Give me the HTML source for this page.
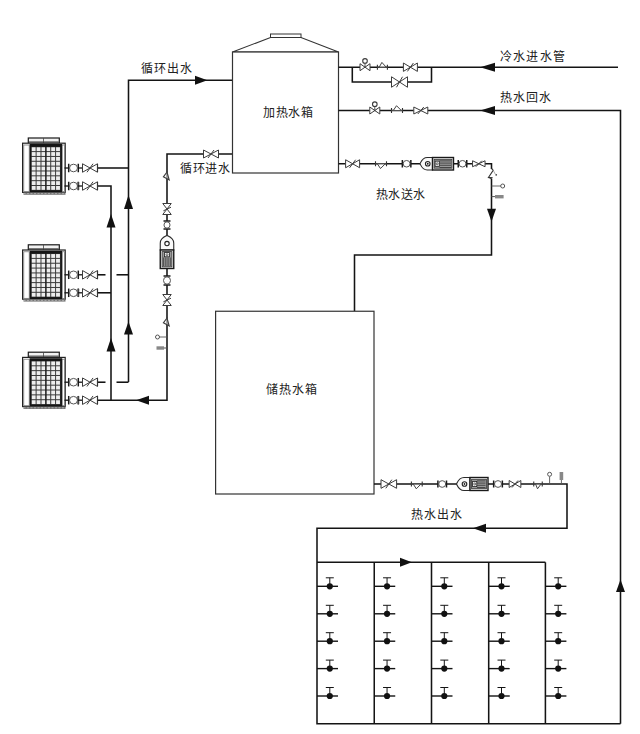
<!DOCTYPE html><html lang="zh-CN"><head><meta charset="utf-8"><style>html,body{margin:0;padding:0;background:#fff;width:640px;height:734px;overflow:hidden;}svg{display:block}text{font-family:"Liberation Serif",serif;fill:#222}</style></head><body>
<svg width="640" height="734" viewBox="0 0 640 734">
<rect width="640" height="734" fill="#fff"/>
<polyline points="128.5,382 128.5,80.3 232.5,80.3" fill="none" stroke="#141414" stroke-width="1.55" stroke-linejoin="miter"/>
<polygon points="207.4,80.3 195.0,75.8 195.0,84.8" fill="#111"/>
<line x1="97.5" y1="168" x2="128.5" y2="168" stroke="#141414" stroke-width="1.55"/>
<line x1="97.5" y1="274.8" x2="105.5" y2="274.8" stroke="#141414" stroke-width="1.55"/>
<line x1="116.5" y1="274.8" x2="128.5" y2="274.8" stroke="#141414" stroke-width="1.55"/>
<line x1="97.5" y1="382.2" x2="105.5" y2="382.2" stroke="#141414" stroke-width="1.55"/>
<line x1="116.5" y1="382.2" x2="128.5" y2="382.2" stroke="#141414" stroke-width="1.55"/>
<polyline points="97.5,186 111,186 111,400.2" fill="none" stroke="#141414" stroke-width="1.55" stroke-linejoin="miter"/>
<line x1="97.5" y1="292.8" x2="111" y2="292.8" stroke="#141414" stroke-width="1.55"/>
<polyline points="97.5,400.2 167,400.2 167,154 232.5,154" fill="none" stroke="#141414" stroke-width="1.55" stroke-linejoin="miter"/>
<polygon points="128.5,195.1 124.0,209.0 133.0,209.0" fill="#111"/>
<polygon points="128.5,321.6 124.0,334.5 133.0,334.5" fill="#111"/>
<polygon points="111,214.1 106.5,227.5 115.5,227.5" fill="#111"/>
<polygon points="111,338.1 106.5,351.5 115.5,351.5" fill="#111"/>
<polygon points="136.1,400.2 149.0,395.7 149.0,404.7" fill="#111"/>
<rect x="203.5" y="153" width="15" height="2" fill="#fff"/>
<polygon points="203.5,150.0 218.5,158.0 218.5,150.0 203.5,158.0" fill="#fff" stroke="#3c3c3c" stroke-width="1.0"/>
<line x1="208" y1="158.0" x2="214" y2="150.0" stroke="#3c3c3c" stroke-width="1.0"/>
<polygon points="167,172.0 163.4,176.8 169.2,180.0" fill="#fff" stroke="#3a3a3a" stroke-width="1.1"/>
<line x1="167" y1="172.0" x2="167" y2="180.0" stroke="#444" stroke-width="0.9"/>
<rect x="166" y="203.5" width="2" height="11" fill="#fff"/>
<polygon points="162.75,203.5 171.25,214.5 162.75,214.5 171.25,203.5" fill="#fff" stroke="#3c3c3c" stroke-width="1.0"/>
<line x1="163.4" y1="210.8" x2="171" y2="207.2" stroke="#3c3c3c" stroke-width="1.0"/>
<line x1="163.5" y1="221.0" x2="170.5" y2="221.0" stroke="#1a1a1a" stroke-width="1.5"/>
<line x1="163.5" y1="229.0" x2="170.5" y2="229.0" stroke="#1a1a1a" stroke-width="1.5"/>
<ellipse cx="167" cy="225" rx="3.04" ry="3.2" fill="#fff" stroke="#555" stroke-width="1"/>
<path d="M160.25,250.0 L160.25,243.25 C160.25,238.0 165,236.5 167,235.5 C169,236.5 173.75,238.0 173.75,243.25 L173.75,250.0 Z" fill="#fafafa" stroke="#2a2a2a" stroke-width="1.1"/>
<circle cx="167" cy="243.55" r="2.2" fill="#fff" stroke="#222" stroke-width="1.1"/>
<rect x="160.25" y="250.0" width="13.5" height="18.5" fill="#fff" stroke="#1a1a1a" stroke-width="1.4"/>
<rect x="162.05" y="251.6" width="9.9" height="15.3" fill="#999" stroke="#333" stroke-width="0.8"/>
<line x1="163.65" y1="257.5" x2="163.65" y2="266.0" stroke="#333" stroke-width="0.8"/>
<line x1="165.85" y1="257.5" x2="165.85" y2="266.0" stroke="#333" stroke-width="0.8"/>
<line x1="168.05" y1="257.5" x2="168.05" y2="266.0" stroke="#333" stroke-width="0.8"/>
<line x1="170.25" y1="257.5" x2="170.25" y2="266.0" stroke="#333" stroke-width="0.8"/>
<rect x="164.4" y="252.6" width="5.2" height="4.2" fill="#eee" stroke="#222" stroke-width="0.8"/>
<circle cx="167" cy="254.7" r="1" fill="none" stroke="#222" stroke-width="0.6"/>
<line x1="163.5" y1="276.0" x2="170.5" y2="276.0" stroke="#1a1a1a" stroke-width="1.5"/>
<line x1="163.5" y1="285.0" x2="170.5" y2="285.0" stroke="#1a1a1a" stroke-width="1.5"/>
<ellipse cx="167" cy="280.5" rx="3.515" ry="3.7" fill="#fff" stroke="#555" stroke-width="1"/>
<rect x="166" y="294.5" width="2" height="11" fill="#fff"/>
<polygon points="162.75,294.5 171.25,305.5 162.75,305.5 171.25,294.5" fill="#fff" stroke="#3c3c3c" stroke-width="1.0"/>
<line x1="163.4" y1="301.8" x2="171" y2="298.2" stroke="#3c3c3c" stroke-width="1.0"/>
<polygon points="167,318.0 163.4,322.8 169.2,326.0" fill="#fff" stroke="#3a3a3a" stroke-width="1.1"/>
<line x1="167" y1="318.0" x2="167" y2="326.0" stroke="#444" stroke-width="0.9"/>
<line x1="159" y1="337" x2="167" y2="337" stroke="#555" stroke-width="0.9"/>
<circle cx="157.5" cy="337" r="2" fill="#fff" stroke="#555" stroke-width="1"/>
<line x1="164" y1="348" x2="167" y2="348" stroke="#555" stroke-width="1"/>
<rect x="156.5" y="346.3" width="7.5" height="3.4" fill="#888"/>
<polygon points="232.5,52 270.5,37.5 301,37.5 338.5,52" fill="#fff" stroke="#333" stroke-width="1.1"/>
<rect x="270.5" y="34" width="30.5" height="3.5" fill="#fff" stroke="#333" stroke-width="1"/>
<rect x="232.5" y="52" width="106" height="121" fill="#fff" stroke="#333" stroke-width="1.2"/>
<line x1="338.5" y1="67.2" x2="618" y2="67.2" stroke="#141414" stroke-width="1.55"/>
<polyline points="352.3,67.2 352.3,82 431.5,82 431.5,67.2" fill="none" stroke="#141414" stroke-width="1.55" stroke-linejoin="miter"/>
<polygon points="480.1,67.2 495.0,62.7 495.0,71.7" fill="#111"/>
<rect x="360.0" y="66.2" width="10" height="2" fill="#fff"/>
<polygon points="360.0,63.7 370.0,70.7 370.0,63.7 360.0,70.7" fill="#fff" stroke="#3c3c3c" stroke-width="1.0"/>
<line x1="365" y1="67.2" x2="365" y2="62.2" stroke="#3c3c3c" stroke-width="0.9"/>
<circle cx="365" cy="60.900000000000006" r="2.3" fill="#fff" stroke="#3c3c3c" stroke-width="1.1"/>
<line x1="377.4" y1="64.7" x2="377.4" y2="69.7" stroke="#333" stroke-width="1.1"/>
<line x1="387.4" y1="64.7" x2="387.4" y2="69.7" stroke="#333" stroke-width="1.1"/>
<polygon points="379.2,67.2 381.9,62.400000000000006 386.2,67.2" fill="#fff" stroke="#444" stroke-width="1"/>
<line x1="377.4" y1="67.2" x2="387.4" y2="67.2" stroke="#555" stroke-width="0.8"/>
<rect x="403.4" y="66.2" width="14" height="2" fill="#fff"/>
<polygon points="403.4,63.0 417.4,71.4 417.4,63.0 403.4,71.4" fill="#fff" stroke="#3c3c3c" stroke-width="1.0"/>
<line x1="407.4" y1="71.4" x2="413.4" y2="63.0" stroke="#3c3c3c" stroke-width="1.0"/>
<rect x="391.5" y="81" width="16" height="2" fill="#fff"/>
<polygon points="391.5,76.75 407.5,87.25 407.5,76.75 391.5,87.25" fill="#fff" stroke="#3c3c3c" stroke-width="1.0"/>
<line x1="396.5" y1="87.25" x2="402.5" y2="76.75" stroke="#3c3c3c" stroke-width="1.0"/>
<polyline points="338.5,110.5 620.5,110.5 620.5,723.8" fill="none" stroke="#141414" stroke-width="1.55" stroke-linejoin="miter"/>
<polygon points="480.1,110.5 495.0,106.0 495.0,115.0" fill="#111"/>
<rect x="369.8" y="109.5" width="10" height="2" fill="#fff"/>
<polygon points="369.8,107.0 379.8,114.0 379.8,107.0 369.8,114.0" fill="#fff" stroke="#3c3c3c" stroke-width="1.0"/>
<line x1="374.8" y1="110.5" x2="374.8" y2="105.5" stroke="#3c3c3c" stroke-width="0.9"/>
<circle cx="374.8" cy="104.2" r="2.3" fill="#fff" stroke="#3c3c3c" stroke-width="1.1"/>
<line x1="391.5" y1="108.0" x2="391.5" y2="113.0" stroke="#333" stroke-width="1.1"/>
<line x1="402.5" y1="108.0" x2="402.5" y2="113.0" stroke="#333" stroke-width="1.1"/>
<polygon points="393.3,110.5 396.5,105.7 401.3,110.5" fill="#fff" stroke="#444" stroke-width="1"/>
<line x1="391.5" y1="110.5" x2="402.5" y2="110.5" stroke="#555" stroke-width="0.8"/>
<rect x="413.8" y="109.5" width="14" height="2" fill="#fff"/>
<polygon points="413.8,107.0 427.8,114.0 427.8,107.0 413.8,114.0" fill="#fff" stroke="#3c3c3c" stroke-width="1.0"/>
<line x1="417.8" y1="114.0" x2="423.8" y2="107.0" stroke="#3c3c3c" stroke-width="1.0"/>
<polygon points="620.5,579.6 616.0,592.0 625.0,592.0" fill="#111"/>
<polyline points="338.5,163.75 491.5,163.75 491.5,255 354.5,255 354.5,311.25" fill="none" stroke="#141414" stroke-width="1.55" stroke-linejoin="miter"/>
<rect x="345.6" y="162.75" width="14" height="2" fill="#fff"/>
<polygon points="345.6,159.75 359.6,167.75 359.6,159.75 345.6,167.75" fill="#fff" stroke="#3c3c3c" stroke-width="1.0"/>
<line x1="349.6" y1="167.75" x2="355.6" y2="159.75" stroke="#3c3c3c" stroke-width="1.0"/>
<line x1="375.5" y1="161.25" x2="375.5" y2="166.25" stroke="#333" stroke-width="1.1"/>
<line x1="386.5" y1="161.25" x2="386.5" y2="166.25" stroke="#333" stroke-width="1.1"/>
<polygon points="377.3,163.75 380.5,168.55 385.3,163.75" fill="#fff" stroke="#444" stroke-width="1"/>
<line x1="375.5" y1="163.75" x2="386.5" y2="163.75" stroke="#555" stroke-width="0.8"/>
<line x1="402.35" y1="160.0" x2="402.35" y2="167.5" stroke="#1a1a1a" stroke-width="1.5"/>
<line x1="410.85" y1="160.0" x2="410.85" y2="167.5" stroke="#1a1a1a" stroke-width="1.5"/>
<ellipse cx="406.6" cy="163.75" rx="3.45" ry="3.2775" fill="#fff" stroke="#555" stroke-width="1"/>
<path d="M432.5,157.5 L427.25,157.5 C422.5,157.5 421,161.75 420,163.75 C421,165.75 422.5,170.0 427.25,170.0 L432.5,170.0 Z" fill="#fafafa" stroke="#2a2a2a" stroke-width="1.1"/>
<circle cx="427.75" cy="163.75" r="2.3" fill="#fff" stroke="#222" stroke-width="1.1"/>
<circle cx="427.75" cy="163.75" r="0.9" fill="#222"/>
<rect x="432.5" y="157.5" width="21" height="12.5" fill="#fff" stroke="#1a1a1a" stroke-width="1.4"/>
<rect x="434.1" y="159.3" width="17.8" height="8.9" fill="#999" stroke="#333" stroke-width="0.8"/>
<line x1="439.5" y1="160.9" x2="451.0" y2="160.9" stroke="#333" stroke-width="0.8"/>
<line x1="439.5" y1="163.1" x2="451.0" y2="163.1" stroke="#333" stroke-width="0.8"/>
<line x1="439.5" y1="165.3" x2="451.0" y2="165.3" stroke="#333" stroke-width="0.8"/>
<line x1="439.5" y1="167.5" x2="451.0" y2="167.5" stroke="#333" stroke-width="0.8"/>
<rect x="435.1" y="161.15" width="4.2" height="5.2" fill="#eee" stroke="#222" stroke-width="0.8"/>
<circle cx="437.2" cy="163.75" r="1" fill="none" stroke="#222" stroke-width="0.6"/>
<line x1="458.25" y1="160.0" x2="458.25" y2="167.5" stroke="#1a1a1a" stroke-width="1.5"/>
<line x1="466.75" y1="160.0" x2="466.75" y2="167.5" stroke="#1a1a1a" stroke-width="1.5"/>
<ellipse cx="462.5" cy="163.75" rx="3.45" ry="3.2775" fill="#fff" stroke="#555" stroke-width="1"/>
<rect x="472.55" y="162.75" width="12.5" height="2" fill="#fff"/>
<polygon points="472.55,160.75 485.05,166.75 485.05,160.75 472.55,166.75" fill="#fff" stroke="#3c3c3c" stroke-width="1.0"/>
<line x1="475.8" y1="166.75" x2="481.8" y2="160.75" stroke="#3c3c3c" stroke-width="1.0"/>
<rect x="489" y="169" width="5" height="9.5" fill="#fff"/>
<polyline points="491.5,168.5 493.2,170.2 488.6,177.2 491.5,178.8" fill="none" stroke="#333" stroke-width="1.1"/>
<line x1="487.8" y1="177.6" x2="492.6" y2="177.6" stroke="#333" stroke-width="1"/>
<circle cx="496.2" cy="174.8" r="0.9" fill="#444"/>
<line x1="493.2" y1="170.2" x2="495.2" y2="174" stroke="#888" stroke-width="0.7"/>
<line x1="491.5" y1="186" x2="501" y2="186" stroke="#555" stroke-width="0.9"/>
<circle cx="502.7" cy="186" r="2" fill="#fff" stroke="#555" stroke-width="1"/>
<line x1="491.5" y1="196.6" x2="495" y2="196.6" stroke="#555" stroke-width="1"/>
<rect x="495" y="195" width="8.6" height="3.4" fill="#888"/>
<polygon points="491.5,221.70000000000002 487.0,208.8 496.0,208.8" fill="#111"/>
<rect x="215.6" y="311.25" width="158.4" height="182.75" fill="#fff" stroke="#333" stroke-width="1.2"/>
<polyline points="374,484 567,484 567,528.25 317,528.25 317,723.8 620.5,723.8" fill="none" stroke="#141414" stroke-width="1.55" stroke-linejoin="miter"/>
<rect x="381.0" y="483" width="15.6" height="2" fill="#fff"/>
<polygon points="381.0,479.7 396.6,488.3 396.6,479.7 381.0,488.3" fill="#fff" stroke="#3c3c3c" stroke-width="1.0"/>
<line x1="385.8" y1="488.3" x2="391.8" y2="479.7" stroke="#3c3c3c" stroke-width="1.0"/>
<line x1="411.40000000000003" y1="481.5" x2="411.40000000000003" y2="486.5" stroke="#333" stroke-width="1.1"/>
<line x1="422.2" y1="481.5" x2="422.2" y2="486.5" stroke="#333" stroke-width="1.1"/>
<polygon points="413.20000000000005,484 416.3,488.8 421.0,484" fill="#fff" stroke="#444" stroke-width="1"/>
<line x1="411.40000000000003" y1="484" x2="422.2" y2="484" stroke="#555" stroke-width="0.8"/>
<line x1="437.9" y1="480.5" x2="437.9" y2="487.5" stroke="#1a1a1a" stroke-width="1.5"/>
<line x1="446.5" y1="480.5" x2="446.5" y2="487.5" stroke="#1a1a1a" stroke-width="1.5"/>
<ellipse cx="442.2" cy="484" rx="3.5" ry="3.3249999999999997" fill="#fff" stroke="#555" stroke-width="1"/>
<path d="M470.0,477.5 L464.0,477.5 C459.0,477.5 457.5,482 456.5,484 C457.5,486 459.0,490.5 464.0,490.5 L470.0,490.5 Z" fill="#fafafa" stroke="#2a2a2a" stroke-width="1.1"/>
<circle cx="464.5" cy="484" r="2.3" fill="#fff" stroke="#222" stroke-width="1.1"/>
<circle cx="464.5" cy="484" r="0.9" fill="#222"/>
<rect x="470.0" y="477.5" width="18" height="13" fill="#fff" stroke="#1a1a1a" stroke-width="1.4"/>
<rect x="471.6" y="479.3" width="14.8" height="9.4" fill="#999" stroke="#333" stroke-width="0.8"/>
<line x1="477.0" y1="480.9" x2="485.5" y2="480.9" stroke="#333" stroke-width="0.8"/>
<line x1="477.0" y1="483.09999999999997" x2="485.5" y2="483.09999999999997" stroke="#333" stroke-width="0.8"/>
<line x1="477.0" y1="485.29999999999995" x2="485.5" y2="485.29999999999995" stroke="#333" stroke-width="0.8"/>
<line x1="477.0" y1="487.5" x2="485.5" y2="487.5" stroke="#333" stroke-width="0.8"/>
<rect x="472.6" y="481.4" width="4.2" height="5.2" fill="#eee" stroke="#222" stroke-width="0.8"/>
<circle cx="474.7" cy="484" r="1" fill="none" stroke="#222" stroke-width="0.6"/>
<line x1="493.65" y1="480.5" x2="493.65" y2="487.5" stroke="#1a1a1a" stroke-width="1.5"/>
<line x1="502.35" y1="480.5" x2="502.35" y2="487.5" stroke="#1a1a1a" stroke-width="1.5"/>
<ellipse cx="498" cy="484" rx="3.55" ry="3.3724999999999996" fill="#fff" stroke="#555" stroke-width="1"/>
<rect x="509.15" y="483" width="11.7" height="2" fill="#fff"/>
<polygon points="509.15,480.5 520.85,487.5 520.85,480.5 509.15,487.5" fill="#fff" stroke="#3c3c3c" stroke-width="1.0"/>
<line x1="512" y1="487.5" x2="518" y2="480.5" stroke="#3c3c3c" stroke-width="1.0"/>
<line x1="533.75" y1="481.5" x2="533.75" y2="486.5" stroke="#333" stroke-width="1.1"/>
<line x1="542.25" y1="481.5" x2="542.25" y2="486.5" stroke="#333" stroke-width="1.1"/>
<polygon points="535.55,484 537.5,488.8 541.05,484" fill="#fff" stroke="#444" stroke-width="1"/>
<line x1="533.75" y1="484" x2="542.25" y2="484" stroke="#555" stroke-width="0.8"/>
<line x1="549.6" y1="476.5" x2="549.6" y2="484" stroke="#555" stroke-width="0.9"/>
<circle cx="549.6" cy="474.3" r="2" fill="#fff" stroke="#555" stroke-width="1"/>
<rect x="559.6" y="472" width="3.6" height="8" fill="#888"/>
<line x1="561.4" y1="480" x2="561.4" y2="484" stroke="#555" stroke-width="0.9"/>
<polygon points="472.90000000000003,528.25 486.00000000000006,523.75 486.00000000000006,532.75" fill="#111"/>
<line x1="317" y1="562.3" x2="545.4" y2="562.3" stroke="#141414" stroke-width="1.55"/>
<line x1="374.25" y1="562.3" x2="374.25" y2="723.8" stroke="#141414" stroke-width="1.55"/>
<line x1="431.5" y1="562.3" x2="431.5" y2="723.8" stroke="#141414" stroke-width="1.55"/>
<line x1="488.7" y1="562.3" x2="488.7" y2="723.8" stroke="#141414" stroke-width="1.55"/>
<line x1="545.4" y1="562.3" x2="545.4" y2="723.8" stroke="#141414" stroke-width="1.55"/>
<polygon points="411.9,562.3 400.0,557.8 400.0,566.8" fill="#111"/>
<line x1="317" y1="586.3" x2="338" y2="586.3" stroke="#141414" stroke-width="1.4"/>
<circle cx="329.8" cy="586.3" r="3.1" fill="#111"/>
<line x1="329.8" y1="586.3" x2="329.8" y2="577.8" stroke="#141414" stroke-width="1"/>
<line x1="325.8" y1="577.8" x2="333.8" y2="577.8" stroke="#141414" stroke-width="1"/>
<line x1="317" y1="613.8" x2="338" y2="613.8" stroke="#141414" stroke-width="1.4"/>
<circle cx="329.8" cy="613.8" r="3.1" fill="#111"/>
<line x1="329.8" y1="613.8" x2="329.8" y2="605.3" stroke="#141414" stroke-width="1"/>
<line x1="325.8" y1="605.3" x2="333.8" y2="605.3" stroke="#141414" stroke-width="1"/>
<line x1="317" y1="641.2" x2="338" y2="641.2" stroke="#141414" stroke-width="1.4"/>
<circle cx="329.8" cy="641.2" r="3.1" fill="#111"/>
<line x1="329.8" y1="641.2" x2="329.8" y2="632.7" stroke="#141414" stroke-width="1"/>
<line x1="325.8" y1="632.7" x2="333.8" y2="632.7" stroke="#141414" stroke-width="1"/>
<line x1="317" y1="668.6" x2="338" y2="668.6" stroke="#141414" stroke-width="1.4"/>
<circle cx="329.8" cy="668.6" r="3.1" fill="#111"/>
<line x1="329.8" y1="668.6" x2="329.8" y2="660.1" stroke="#141414" stroke-width="1"/>
<line x1="325.8" y1="660.1" x2="333.8" y2="660.1" stroke="#141414" stroke-width="1"/>
<line x1="317" y1="696" x2="338" y2="696" stroke="#141414" stroke-width="1.4"/>
<circle cx="329.8" cy="696" r="3.1" fill="#111"/>
<line x1="329.8" y1="696" x2="329.8" y2="687.5" stroke="#141414" stroke-width="1"/>
<line x1="325.8" y1="687.5" x2="333.8" y2="687.5" stroke="#141414" stroke-width="1"/>
<line x1="374.25" y1="586.3" x2="395.25" y2="586.3" stroke="#141414" stroke-width="1.4"/>
<circle cx="387.05" cy="586.3" r="3.1" fill="#111"/>
<line x1="387.05" y1="586.3" x2="387.05" y2="577.8" stroke="#141414" stroke-width="1"/>
<line x1="383.05" y1="577.8" x2="391.05" y2="577.8" stroke="#141414" stroke-width="1"/>
<line x1="374.25" y1="613.8" x2="395.25" y2="613.8" stroke="#141414" stroke-width="1.4"/>
<circle cx="387.05" cy="613.8" r="3.1" fill="#111"/>
<line x1="387.05" y1="613.8" x2="387.05" y2="605.3" stroke="#141414" stroke-width="1"/>
<line x1="383.05" y1="605.3" x2="391.05" y2="605.3" stroke="#141414" stroke-width="1"/>
<line x1="374.25" y1="641.2" x2="395.25" y2="641.2" stroke="#141414" stroke-width="1.4"/>
<circle cx="387.05" cy="641.2" r="3.1" fill="#111"/>
<line x1="387.05" y1="641.2" x2="387.05" y2="632.7" stroke="#141414" stroke-width="1"/>
<line x1="383.05" y1="632.7" x2="391.05" y2="632.7" stroke="#141414" stroke-width="1"/>
<line x1="374.25" y1="668.6" x2="395.25" y2="668.6" stroke="#141414" stroke-width="1.4"/>
<circle cx="387.05" cy="668.6" r="3.1" fill="#111"/>
<line x1="387.05" y1="668.6" x2="387.05" y2="660.1" stroke="#141414" stroke-width="1"/>
<line x1="383.05" y1="660.1" x2="391.05" y2="660.1" stroke="#141414" stroke-width="1"/>
<line x1="374.25" y1="696" x2="395.25" y2="696" stroke="#141414" stroke-width="1.4"/>
<circle cx="387.05" cy="696" r="3.1" fill="#111"/>
<line x1="387.05" y1="696" x2="387.05" y2="687.5" stroke="#141414" stroke-width="1"/>
<line x1="383.05" y1="687.5" x2="391.05" y2="687.5" stroke="#141414" stroke-width="1"/>
<line x1="431.5" y1="586.3" x2="452.5" y2="586.3" stroke="#141414" stroke-width="1.4"/>
<circle cx="444.3" cy="586.3" r="3.1" fill="#111"/>
<line x1="444.3" y1="586.3" x2="444.3" y2="577.8" stroke="#141414" stroke-width="1"/>
<line x1="440.3" y1="577.8" x2="448.3" y2="577.8" stroke="#141414" stroke-width="1"/>
<line x1="431.5" y1="613.8" x2="452.5" y2="613.8" stroke="#141414" stroke-width="1.4"/>
<circle cx="444.3" cy="613.8" r="3.1" fill="#111"/>
<line x1="444.3" y1="613.8" x2="444.3" y2="605.3" stroke="#141414" stroke-width="1"/>
<line x1="440.3" y1="605.3" x2="448.3" y2="605.3" stroke="#141414" stroke-width="1"/>
<line x1="431.5" y1="641.2" x2="452.5" y2="641.2" stroke="#141414" stroke-width="1.4"/>
<circle cx="444.3" cy="641.2" r="3.1" fill="#111"/>
<line x1="444.3" y1="641.2" x2="444.3" y2="632.7" stroke="#141414" stroke-width="1"/>
<line x1="440.3" y1="632.7" x2="448.3" y2="632.7" stroke="#141414" stroke-width="1"/>
<line x1="431.5" y1="668.6" x2="452.5" y2="668.6" stroke="#141414" stroke-width="1.4"/>
<circle cx="444.3" cy="668.6" r="3.1" fill="#111"/>
<line x1="444.3" y1="668.6" x2="444.3" y2="660.1" stroke="#141414" stroke-width="1"/>
<line x1="440.3" y1="660.1" x2="448.3" y2="660.1" stroke="#141414" stroke-width="1"/>
<line x1="431.5" y1="696" x2="452.5" y2="696" stroke="#141414" stroke-width="1.4"/>
<circle cx="444.3" cy="696" r="3.1" fill="#111"/>
<line x1="444.3" y1="696" x2="444.3" y2="687.5" stroke="#141414" stroke-width="1"/>
<line x1="440.3" y1="687.5" x2="448.3" y2="687.5" stroke="#141414" stroke-width="1"/>
<line x1="488.7" y1="586.3" x2="509.7" y2="586.3" stroke="#141414" stroke-width="1.4"/>
<circle cx="501.5" cy="586.3" r="3.1" fill="#111"/>
<line x1="501.5" y1="586.3" x2="501.5" y2="577.8" stroke="#141414" stroke-width="1"/>
<line x1="497.5" y1="577.8" x2="505.5" y2="577.8" stroke="#141414" stroke-width="1"/>
<line x1="488.7" y1="613.8" x2="509.7" y2="613.8" stroke="#141414" stroke-width="1.4"/>
<circle cx="501.5" cy="613.8" r="3.1" fill="#111"/>
<line x1="501.5" y1="613.8" x2="501.5" y2="605.3" stroke="#141414" stroke-width="1"/>
<line x1="497.5" y1="605.3" x2="505.5" y2="605.3" stroke="#141414" stroke-width="1"/>
<line x1="488.7" y1="641.2" x2="509.7" y2="641.2" stroke="#141414" stroke-width="1.4"/>
<circle cx="501.5" cy="641.2" r="3.1" fill="#111"/>
<line x1="501.5" y1="641.2" x2="501.5" y2="632.7" stroke="#141414" stroke-width="1"/>
<line x1="497.5" y1="632.7" x2="505.5" y2="632.7" stroke="#141414" stroke-width="1"/>
<line x1="488.7" y1="668.6" x2="509.7" y2="668.6" stroke="#141414" stroke-width="1.4"/>
<circle cx="501.5" cy="668.6" r="3.1" fill="#111"/>
<line x1="501.5" y1="668.6" x2="501.5" y2="660.1" stroke="#141414" stroke-width="1"/>
<line x1="497.5" y1="660.1" x2="505.5" y2="660.1" stroke="#141414" stroke-width="1"/>
<line x1="488.7" y1="696" x2="509.7" y2="696" stroke="#141414" stroke-width="1.4"/>
<circle cx="501.5" cy="696" r="3.1" fill="#111"/>
<line x1="501.5" y1="696" x2="501.5" y2="687.5" stroke="#141414" stroke-width="1"/>
<line x1="497.5" y1="687.5" x2="505.5" y2="687.5" stroke="#141414" stroke-width="1"/>
<line x1="545.4" y1="586.3" x2="566.4" y2="586.3" stroke="#141414" stroke-width="1.4"/>
<circle cx="558.1999999999999" cy="586.3" r="3.1" fill="#111"/>
<line x1="558.1999999999999" y1="586.3" x2="558.1999999999999" y2="577.8" stroke="#141414" stroke-width="1"/>
<line x1="554.1999999999999" y1="577.8" x2="562.1999999999999" y2="577.8" stroke="#141414" stroke-width="1"/>
<line x1="545.4" y1="613.8" x2="566.4" y2="613.8" stroke="#141414" stroke-width="1.4"/>
<circle cx="558.1999999999999" cy="613.8" r="3.1" fill="#111"/>
<line x1="558.1999999999999" y1="613.8" x2="558.1999999999999" y2="605.3" stroke="#141414" stroke-width="1"/>
<line x1="554.1999999999999" y1="605.3" x2="562.1999999999999" y2="605.3" stroke="#141414" stroke-width="1"/>
<line x1="545.4" y1="641.2" x2="566.4" y2="641.2" stroke="#141414" stroke-width="1.4"/>
<circle cx="558.1999999999999" cy="641.2" r="3.1" fill="#111"/>
<line x1="558.1999999999999" y1="641.2" x2="558.1999999999999" y2="632.7" stroke="#141414" stroke-width="1"/>
<line x1="554.1999999999999" y1="632.7" x2="562.1999999999999" y2="632.7" stroke="#141414" stroke-width="1"/>
<line x1="545.4" y1="668.6" x2="566.4" y2="668.6" stroke="#141414" stroke-width="1.4"/>
<circle cx="558.1999999999999" cy="668.6" r="3.1" fill="#111"/>
<line x1="558.1999999999999" y1="668.6" x2="558.1999999999999" y2="660.1" stroke="#141414" stroke-width="1"/>
<line x1="554.1999999999999" y1="660.1" x2="562.1999999999999" y2="660.1" stroke="#141414" stroke-width="1"/>
<line x1="545.4" y1="696" x2="566.4" y2="696" stroke="#141414" stroke-width="1.4"/>
<circle cx="558.1999999999999" cy="696" r="3.1" fill="#111"/>
<line x1="558.1999999999999" y1="696" x2="558.1999999999999" y2="687.5" stroke="#141414" stroke-width="1"/>
<line x1="554.1999999999999" y1="687.5" x2="562.1999999999999" y2="687.5" stroke="#141414" stroke-width="1"/>
<rect x="28.3" y="138" width="31" height="5.2" fill="#f2f2f2" stroke="#1a1a1a" stroke-width="1.2"/>
<rect x="29" y="141.2" width="30" height="1.6" fill="#777"/>
<line x1="43.5" y1="138" x2="43.5" y2="143" stroke="#444" stroke-width="0.8"/>
<rect x="22.6" y="143.2" width="42.6" height="49.2" fill="#fff" stroke="#222" stroke-width="1.2"/>
<rect x="23.8" y="145" width="5.4" height="46.5" fill="#fff" stroke="#666" stroke-width="0.7"/>
<rect x="29.599999999999998" y="144" width="32.6" height="48.599999999999994" fill="#151515"/>
<rect x="31.3" y="146.79999999999998" width="29.2" height="43.599999999999994" fill="#3a3a3a"/>
<rect x="31.75" y="147.25" width="3.87" height="3.84" fill="#eee"/>
<rect x="31.75" y="152.09" width="3.87" height="3.84" fill="#eee"/>
<rect x="31.75" y="156.94" width="3.87" height="3.84" fill="#eee"/>
<rect x="31.75" y="161.78" width="3.87" height="3.84" fill="#eee"/>
<rect x="31.75" y="166.63" width="3.87" height="3.84" fill="#eee"/>
<rect x="31.75" y="171.47" width="3.87" height="3.84" fill="#eee"/>
<rect x="31.75" y="176.32" width="3.87" height="3.84" fill="#eee"/>
<rect x="31.75" y="181.16" width="3.87" height="3.84" fill="#eee"/>
<rect x="31.75" y="186.01" width="3.87" height="3.84" fill="#eee"/>
<rect x="36.62" y="147.25" width="3.87" height="3.84" fill="#eee"/>
<rect x="36.62" y="152.09" width="3.87" height="3.84" fill="#eee"/>
<rect x="36.62" y="156.94" width="3.87" height="3.84" fill="#eee"/>
<rect x="36.62" y="161.78" width="3.87" height="3.84" fill="#eee"/>
<rect x="36.62" y="166.63" width="3.87" height="3.84" fill="#eee"/>
<rect x="36.62" y="171.47" width="3.87" height="3.84" fill="#eee"/>
<rect x="36.62" y="176.32" width="3.87" height="3.84" fill="#eee"/>
<rect x="36.62" y="181.16" width="3.87" height="3.84" fill="#eee"/>
<rect x="36.62" y="186.01" width="3.87" height="3.84" fill="#eee"/>
<rect x="41.48" y="147.25" width="3.87" height="3.84" fill="#eee"/>
<rect x="41.48" y="152.09" width="3.87" height="3.84" fill="#eee"/>
<rect x="41.48" y="156.94" width="3.87" height="3.84" fill="#eee"/>
<rect x="41.48" y="161.78" width="3.87" height="3.84" fill="#eee"/>
<rect x="41.48" y="166.63" width="3.87" height="3.84" fill="#eee"/>
<rect x="41.48" y="171.47" width="3.87" height="3.84" fill="#eee"/>
<rect x="41.48" y="176.32" width="3.87" height="3.84" fill="#eee"/>
<rect x="41.48" y="181.16" width="3.87" height="3.84" fill="#eee"/>
<rect x="41.48" y="186.01" width="3.87" height="3.84" fill="#eee"/>
<rect x="46.35" y="147.25" width="3.87" height="3.84" fill="#eee"/>
<rect x="46.35" y="152.09" width="3.87" height="3.84" fill="#eee"/>
<rect x="46.35" y="156.94" width="3.87" height="3.84" fill="#eee"/>
<rect x="46.35" y="161.78" width="3.87" height="3.84" fill="#eee"/>
<rect x="46.35" y="166.63" width="3.87" height="3.84" fill="#eee"/>
<rect x="46.35" y="171.47" width="3.87" height="3.84" fill="#eee"/>
<rect x="46.35" y="176.32" width="3.87" height="3.84" fill="#eee"/>
<rect x="46.35" y="181.16" width="3.87" height="3.84" fill="#eee"/>
<rect x="46.35" y="186.01" width="3.87" height="3.84" fill="#eee"/>
<rect x="51.22" y="147.25" width="3.87" height="3.84" fill="#eee"/>
<rect x="51.22" y="152.09" width="3.87" height="3.84" fill="#eee"/>
<rect x="51.22" y="156.94" width="3.87" height="3.84" fill="#eee"/>
<rect x="51.22" y="161.78" width="3.87" height="3.84" fill="#eee"/>
<rect x="51.22" y="166.63" width="3.87" height="3.84" fill="#eee"/>
<rect x="51.22" y="171.47" width="3.87" height="3.84" fill="#eee"/>
<rect x="51.22" y="176.32" width="3.87" height="3.84" fill="#eee"/>
<rect x="51.22" y="181.16" width="3.87" height="3.84" fill="#eee"/>
<rect x="51.22" y="186.01" width="3.87" height="3.84" fill="#eee"/>
<rect x="56.08" y="147.25" width="3.87" height="3.84" fill="#eee"/>
<rect x="56.08" y="152.09" width="3.87" height="3.84" fill="#eee"/>
<rect x="56.08" y="156.94" width="3.87" height="3.84" fill="#eee"/>
<rect x="56.08" y="161.78" width="3.87" height="3.84" fill="#eee"/>
<rect x="56.08" y="166.63" width="3.87" height="3.84" fill="#eee"/>
<rect x="56.08" y="171.47" width="3.87" height="3.84" fill="#eee"/>
<rect x="56.08" y="176.32" width="3.87" height="3.84" fill="#eee"/>
<rect x="56.08" y="181.16" width="3.87" height="3.84" fill="#eee"/>
<rect x="56.08" y="186.01" width="3.87" height="3.84" fill="#eee"/>
<line x1="45.9" y1="146.2" x2="45.9" y2="191.0" stroke="#151515" stroke-width="1.1"/>
<rect x="62.2" y="145" width="2.4" height="46.5" fill="#fff" stroke="#555" stroke-width="0.6"/>
<rect x="23.5" y="192.4" width="42" height="2.4" fill="#777"/>
<line x1="23.5" y1="193.6" x2="65.5" y2="193.6" stroke="#ccc" stroke-width="0.6" stroke-dasharray="2,1.5"/>
<line x1="64.5" y1="168" x2="69" y2="168" stroke="#141414" stroke-width="1.3"/>
<line x1="68.7" y1="163.75" x2="68.7" y2="172.25" stroke="#1a1a1a" stroke-width="1.5"/>
<line x1="78.3" y1="163.75" x2="78.3" y2="172.25" stroke="#1a1a1a" stroke-width="1.5"/>
<ellipse cx="73.5" cy="168" rx="4.0" ry="3.8" fill="#fff" stroke="#555" stroke-width="1"/>
<line x1="78" y1="168" x2="83" y2="168" stroke="#141414" stroke-width="1.3"/>
<rect x="82.5" y="167" width="15" height="2" fill="#fff"/>
<polygon points="82.5,163.75 97.5,172.25 97.5,163.75 82.5,172.25" fill="#fff" stroke="#3c3c3c" stroke-width="1.0"/>
<line x1="87" y1="172.25" x2="93" y2="163.75" stroke="#3c3c3c" stroke-width="1.0"/>
<line x1="97.5" y1="164" x2="97.5" y2="172" stroke="#333" stroke-width="1.2"/>
<line x1="64.5" y1="186" x2="69" y2="186" stroke="#141414" stroke-width="1.3"/>
<line x1="68.7" y1="181.75" x2="68.7" y2="190.25" stroke="#1a1a1a" stroke-width="1.5"/>
<line x1="78.3" y1="181.75" x2="78.3" y2="190.25" stroke="#1a1a1a" stroke-width="1.5"/>
<ellipse cx="73.5" cy="186" rx="4.0" ry="3.8" fill="#fff" stroke="#555" stroke-width="1"/>
<rect x="77.6" y="182" width="1.6" height="8" fill="#444"/>
<line x1="78" y1="186" x2="83" y2="186" stroke="#141414" stroke-width="1.3"/>
<rect x="82.5" y="185" width="15" height="2" fill="#fff"/>
<polygon points="82.5,181.75 97.5,190.25 97.5,181.75 82.5,190.25" fill="#fff" stroke="#3c3c3c" stroke-width="1.0"/>
<line x1="87" y1="190.25" x2="93" y2="181.75" stroke="#3c3c3c" stroke-width="1.0"/>
<line x1="97.5" y1="182" x2="97.5" y2="190" stroke="#333" stroke-width="1.2"/>
<rect x="28.3" y="244.8" width="31" height="5.2" fill="#f2f2f2" stroke="#1a1a1a" stroke-width="1.2"/>
<rect x="29" y="248.0" width="30" height="1.6" fill="#777"/>
<line x1="43.5" y1="244.8" x2="43.5" y2="249.8" stroke="#444" stroke-width="0.8"/>
<rect x="22.6" y="250.0" width="42.6" height="49.2" fill="#fff" stroke="#222" stroke-width="1.2"/>
<rect x="23.8" y="251.8" width="5.4" height="46.5" fill="#fff" stroke="#666" stroke-width="0.7"/>
<rect x="29.599999999999998" y="250.8" width="32.6" height="48.599999999999994" fill="#151515"/>
<rect x="31.3" y="253.6" width="29.2" height="43.599999999999994" fill="#3a3a3a"/>
<rect x="31.75" y="254.05" width="3.87" height="3.84" fill="#eee"/>
<rect x="31.75" y="258.89" width="3.87" height="3.84" fill="#eee"/>
<rect x="31.75" y="263.74" width="3.87" height="3.84" fill="#eee"/>
<rect x="31.75" y="268.58" width="3.87" height="3.84" fill="#eee"/>
<rect x="31.75" y="273.43" width="3.87" height="3.84" fill="#eee"/>
<rect x="31.75" y="278.27" width="3.87" height="3.84" fill="#eee"/>
<rect x="31.75" y="283.12" width="3.87" height="3.84" fill="#eee"/>
<rect x="31.75" y="287.96" width="3.87" height="3.84" fill="#eee"/>
<rect x="31.75" y="292.81" width="3.87" height="3.84" fill="#eee"/>
<rect x="36.62" y="254.05" width="3.87" height="3.84" fill="#eee"/>
<rect x="36.62" y="258.89" width="3.87" height="3.84" fill="#eee"/>
<rect x="36.62" y="263.74" width="3.87" height="3.84" fill="#eee"/>
<rect x="36.62" y="268.58" width="3.87" height="3.84" fill="#eee"/>
<rect x="36.62" y="273.43" width="3.87" height="3.84" fill="#eee"/>
<rect x="36.62" y="278.27" width="3.87" height="3.84" fill="#eee"/>
<rect x="36.62" y="283.12" width="3.87" height="3.84" fill="#eee"/>
<rect x="36.62" y="287.96" width="3.87" height="3.84" fill="#eee"/>
<rect x="36.62" y="292.81" width="3.87" height="3.84" fill="#eee"/>
<rect x="41.48" y="254.05" width="3.87" height="3.84" fill="#eee"/>
<rect x="41.48" y="258.89" width="3.87" height="3.84" fill="#eee"/>
<rect x="41.48" y="263.74" width="3.87" height="3.84" fill="#eee"/>
<rect x="41.48" y="268.58" width="3.87" height="3.84" fill="#eee"/>
<rect x="41.48" y="273.43" width="3.87" height="3.84" fill="#eee"/>
<rect x="41.48" y="278.27" width="3.87" height="3.84" fill="#eee"/>
<rect x="41.48" y="283.12" width="3.87" height="3.84" fill="#eee"/>
<rect x="41.48" y="287.96" width="3.87" height="3.84" fill="#eee"/>
<rect x="41.48" y="292.81" width="3.87" height="3.84" fill="#eee"/>
<rect x="46.35" y="254.05" width="3.87" height="3.84" fill="#eee"/>
<rect x="46.35" y="258.89" width="3.87" height="3.84" fill="#eee"/>
<rect x="46.35" y="263.74" width="3.87" height="3.84" fill="#eee"/>
<rect x="46.35" y="268.58" width="3.87" height="3.84" fill="#eee"/>
<rect x="46.35" y="273.43" width="3.87" height="3.84" fill="#eee"/>
<rect x="46.35" y="278.27" width="3.87" height="3.84" fill="#eee"/>
<rect x="46.35" y="283.12" width="3.87" height="3.84" fill="#eee"/>
<rect x="46.35" y="287.96" width="3.87" height="3.84" fill="#eee"/>
<rect x="46.35" y="292.81" width="3.87" height="3.84" fill="#eee"/>
<rect x="51.22" y="254.05" width="3.87" height="3.84" fill="#eee"/>
<rect x="51.22" y="258.89" width="3.87" height="3.84" fill="#eee"/>
<rect x="51.22" y="263.74" width="3.87" height="3.84" fill="#eee"/>
<rect x="51.22" y="268.58" width="3.87" height="3.84" fill="#eee"/>
<rect x="51.22" y="273.43" width="3.87" height="3.84" fill="#eee"/>
<rect x="51.22" y="278.27" width="3.87" height="3.84" fill="#eee"/>
<rect x="51.22" y="283.12" width="3.87" height="3.84" fill="#eee"/>
<rect x="51.22" y="287.96" width="3.87" height="3.84" fill="#eee"/>
<rect x="51.22" y="292.81" width="3.87" height="3.84" fill="#eee"/>
<rect x="56.08" y="254.05" width="3.87" height="3.84" fill="#eee"/>
<rect x="56.08" y="258.89" width="3.87" height="3.84" fill="#eee"/>
<rect x="56.08" y="263.74" width="3.87" height="3.84" fill="#eee"/>
<rect x="56.08" y="268.58" width="3.87" height="3.84" fill="#eee"/>
<rect x="56.08" y="273.43" width="3.87" height="3.84" fill="#eee"/>
<rect x="56.08" y="278.27" width="3.87" height="3.84" fill="#eee"/>
<rect x="56.08" y="283.12" width="3.87" height="3.84" fill="#eee"/>
<rect x="56.08" y="287.96" width="3.87" height="3.84" fill="#eee"/>
<rect x="56.08" y="292.81" width="3.87" height="3.84" fill="#eee"/>
<line x1="45.9" y1="253.0" x2="45.9" y2="297.8" stroke="#151515" stroke-width="1.1"/>
<rect x="62.2" y="251.8" width="2.4" height="46.5" fill="#fff" stroke="#555" stroke-width="0.6"/>
<rect x="23.5" y="299.2" width="42" height="2.4" fill="#777"/>
<line x1="23.5" y1="300.40000000000003" x2="65.5" y2="300.40000000000003" stroke="#ccc" stroke-width="0.6" stroke-dasharray="2,1.5"/>
<line x1="64.5" y1="274.8" x2="69" y2="274.8" stroke="#141414" stroke-width="1.3"/>
<line x1="68.7" y1="270.55" x2="68.7" y2="279.05" stroke="#1a1a1a" stroke-width="1.5"/>
<line x1="78.3" y1="270.55" x2="78.3" y2="279.05" stroke="#1a1a1a" stroke-width="1.5"/>
<ellipse cx="73.5" cy="274.8" rx="4.0" ry="3.8" fill="#fff" stroke="#555" stroke-width="1"/>
<line x1="78" y1="274.8" x2="83" y2="274.8" stroke="#141414" stroke-width="1.3"/>
<rect x="82.5" y="273.8" width="15" height="2" fill="#fff"/>
<polygon points="82.5,270.55 97.5,279.05 97.5,270.55 82.5,279.05" fill="#fff" stroke="#3c3c3c" stroke-width="1.0"/>
<line x1="87" y1="279.05" x2="93" y2="270.55" stroke="#3c3c3c" stroke-width="1.0"/>
<line x1="97.5" y1="270.8" x2="97.5" y2="278.8" stroke="#333" stroke-width="1.2"/>
<line x1="64.5" y1="292.8" x2="69" y2="292.8" stroke="#141414" stroke-width="1.3"/>
<line x1="68.7" y1="288.55" x2="68.7" y2="297.05" stroke="#1a1a1a" stroke-width="1.5"/>
<line x1="78.3" y1="288.55" x2="78.3" y2="297.05" stroke="#1a1a1a" stroke-width="1.5"/>
<ellipse cx="73.5" cy="292.8" rx="4.0" ry="3.8" fill="#fff" stroke="#555" stroke-width="1"/>
<rect x="77.6" y="288.8" width="1.6" height="8" fill="#444"/>
<line x1="78" y1="292.8" x2="83" y2="292.8" stroke="#141414" stroke-width="1.3"/>
<rect x="82.5" y="291.8" width="15" height="2" fill="#fff"/>
<polygon points="82.5,288.55 97.5,297.05 97.5,288.55 82.5,297.05" fill="#fff" stroke="#3c3c3c" stroke-width="1.0"/>
<line x1="87" y1="297.05" x2="93" y2="288.55" stroke="#3c3c3c" stroke-width="1.0"/>
<line x1="97.5" y1="288.8" x2="97.5" y2="296.8" stroke="#333" stroke-width="1.2"/>
<rect x="28.3" y="352.2" width="31" height="5.2" fill="#f2f2f2" stroke="#1a1a1a" stroke-width="1.2"/>
<rect x="29" y="355.4" width="30" height="1.6" fill="#777"/>
<line x1="43.5" y1="352.2" x2="43.5" y2="357.2" stroke="#444" stroke-width="0.8"/>
<rect x="22.6" y="357.4" width="42.6" height="49.2" fill="#fff" stroke="#222" stroke-width="1.2"/>
<rect x="23.8" y="359.2" width="5.4" height="46.5" fill="#fff" stroke="#666" stroke-width="0.7"/>
<rect x="29.599999999999998" y="358.2" width="32.6" height="48.599999999999994" fill="#151515"/>
<rect x="31.3" y="361.0" width="29.2" height="43.599999999999994" fill="#3a3a3a"/>
<rect x="31.75" y="361.45" width="3.87" height="3.84" fill="#eee"/>
<rect x="31.75" y="366.29" width="3.87" height="3.84" fill="#eee"/>
<rect x="31.75" y="371.14" width="3.87" height="3.84" fill="#eee"/>
<rect x="31.75" y="375.98" width="3.87" height="3.84" fill="#eee"/>
<rect x="31.75" y="380.83" width="3.87" height="3.84" fill="#eee"/>
<rect x="31.75" y="385.67" width="3.87" height="3.84" fill="#eee"/>
<rect x="31.75" y="390.52" width="3.87" height="3.84" fill="#eee"/>
<rect x="31.75" y="395.36" width="3.87" height="3.84" fill="#eee"/>
<rect x="31.75" y="400.21" width="3.87" height="3.84" fill="#eee"/>
<rect x="36.62" y="361.45" width="3.87" height="3.84" fill="#eee"/>
<rect x="36.62" y="366.29" width="3.87" height="3.84" fill="#eee"/>
<rect x="36.62" y="371.14" width="3.87" height="3.84" fill="#eee"/>
<rect x="36.62" y="375.98" width="3.87" height="3.84" fill="#eee"/>
<rect x="36.62" y="380.83" width="3.87" height="3.84" fill="#eee"/>
<rect x="36.62" y="385.67" width="3.87" height="3.84" fill="#eee"/>
<rect x="36.62" y="390.52" width="3.87" height="3.84" fill="#eee"/>
<rect x="36.62" y="395.36" width="3.87" height="3.84" fill="#eee"/>
<rect x="36.62" y="400.21" width="3.87" height="3.84" fill="#eee"/>
<rect x="41.48" y="361.45" width="3.87" height="3.84" fill="#eee"/>
<rect x="41.48" y="366.29" width="3.87" height="3.84" fill="#eee"/>
<rect x="41.48" y="371.14" width="3.87" height="3.84" fill="#eee"/>
<rect x="41.48" y="375.98" width="3.87" height="3.84" fill="#eee"/>
<rect x="41.48" y="380.83" width="3.87" height="3.84" fill="#eee"/>
<rect x="41.48" y="385.67" width="3.87" height="3.84" fill="#eee"/>
<rect x="41.48" y="390.52" width="3.87" height="3.84" fill="#eee"/>
<rect x="41.48" y="395.36" width="3.87" height="3.84" fill="#eee"/>
<rect x="41.48" y="400.21" width="3.87" height="3.84" fill="#eee"/>
<rect x="46.35" y="361.45" width="3.87" height="3.84" fill="#eee"/>
<rect x="46.35" y="366.29" width="3.87" height="3.84" fill="#eee"/>
<rect x="46.35" y="371.14" width="3.87" height="3.84" fill="#eee"/>
<rect x="46.35" y="375.98" width="3.87" height="3.84" fill="#eee"/>
<rect x="46.35" y="380.83" width="3.87" height="3.84" fill="#eee"/>
<rect x="46.35" y="385.67" width="3.87" height="3.84" fill="#eee"/>
<rect x="46.35" y="390.52" width="3.87" height="3.84" fill="#eee"/>
<rect x="46.35" y="395.36" width="3.87" height="3.84" fill="#eee"/>
<rect x="46.35" y="400.21" width="3.87" height="3.84" fill="#eee"/>
<rect x="51.22" y="361.45" width="3.87" height="3.84" fill="#eee"/>
<rect x="51.22" y="366.29" width="3.87" height="3.84" fill="#eee"/>
<rect x="51.22" y="371.14" width="3.87" height="3.84" fill="#eee"/>
<rect x="51.22" y="375.98" width="3.87" height="3.84" fill="#eee"/>
<rect x="51.22" y="380.83" width="3.87" height="3.84" fill="#eee"/>
<rect x="51.22" y="385.67" width="3.87" height="3.84" fill="#eee"/>
<rect x="51.22" y="390.52" width="3.87" height="3.84" fill="#eee"/>
<rect x="51.22" y="395.36" width="3.87" height="3.84" fill="#eee"/>
<rect x="51.22" y="400.21" width="3.87" height="3.84" fill="#eee"/>
<rect x="56.08" y="361.45" width="3.87" height="3.84" fill="#eee"/>
<rect x="56.08" y="366.29" width="3.87" height="3.84" fill="#eee"/>
<rect x="56.08" y="371.14" width="3.87" height="3.84" fill="#eee"/>
<rect x="56.08" y="375.98" width="3.87" height="3.84" fill="#eee"/>
<rect x="56.08" y="380.83" width="3.87" height="3.84" fill="#eee"/>
<rect x="56.08" y="385.67" width="3.87" height="3.84" fill="#eee"/>
<rect x="56.08" y="390.52" width="3.87" height="3.84" fill="#eee"/>
<rect x="56.08" y="395.36" width="3.87" height="3.84" fill="#eee"/>
<rect x="56.08" y="400.21" width="3.87" height="3.84" fill="#eee"/>
<line x1="45.9" y1="360.4" x2="45.9" y2="405.2" stroke="#151515" stroke-width="1.1"/>
<rect x="62.2" y="359.2" width="2.4" height="46.5" fill="#fff" stroke="#555" stroke-width="0.6"/>
<rect x="23.5" y="406.59999999999997" width="42" height="2.4" fill="#777"/>
<line x1="23.5" y1="407.8" x2="65.5" y2="407.8" stroke="#ccc" stroke-width="0.6" stroke-dasharray="2,1.5"/>
<line x1="64.5" y1="382.2" x2="69" y2="382.2" stroke="#141414" stroke-width="1.3"/>
<line x1="68.7" y1="377.95" x2="68.7" y2="386.45" stroke="#1a1a1a" stroke-width="1.5"/>
<line x1="78.3" y1="377.95" x2="78.3" y2="386.45" stroke="#1a1a1a" stroke-width="1.5"/>
<ellipse cx="73.5" cy="382.2" rx="4.0" ry="3.8" fill="#fff" stroke="#555" stroke-width="1"/>
<line x1="78" y1="382.2" x2="83" y2="382.2" stroke="#141414" stroke-width="1.3"/>
<rect x="82.5" y="381.2" width="15" height="2" fill="#fff"/>
<polygon points="82.5,377.95 97.5,386.45 97.5,377.95 82.5,386.45" fill="#fff" stroke="#3c3c3c" stroke-width="1.0"/>
<line x1="87" y1="386.45" x2="93" y2="377.95" stroke="#3c3c3c" stroke-width="1.0"/>
<line x1="97.5" y1="378.2" x2="97.5" y2="386.2" stroke="#333" stroke-width="1.2"/>
<line x1="64.5" y1="400.2" x2="69" y2="400.2" stroke="#141414" stroke-width="1.3"/>
<line x1="68.7" y1="395.95" x2="68.7" y2="404.45" stroke="#1a1a1a" stroke-width="1.5"/>
<line x1="78.3" y1="395.95" x2="78.3" y2="404.45" stroke="#1a1a1a" stroke-width="1.5"/>
<ellipse cx="73.5" cy="400.2" rx="4.0" ry="3.8" fill="#fff" stroke="#555" stroke-width="1"/>
<rect x="77.6" y="396.2" width="1.6" height="8" fill="#444"/>
<line x1="78" y1="400.2" x2="83" y2="400.2" stroke="#141414" stroke-width="1.3"/>
<rect x="82.5" y="399.2" width="15" height="2" fill="#fff"/>
<polygon points="82.5,395.95 97.5,404.45 97.5,395.95 82.5,404.45" fill="#fff" stroke="#3c3c3c" stroke-width="1.0"/>
<line x1="87" y1="404.45" x2="93" y2="395.95" stroke="#3c3c3c" stroke-width="1.0"/>
<line x1="97.5" y1="396.2" x2="97.5" y2="404.2" stroke="#333" stroke-width="1.2"/>
<text x="141" y="72.56" font-size="12" letter-spacing="0.95">循环出水</text>
<text x="263.2" y="116.81" font-size="12" letter-spacing="0.45">加热水箱</text>
<text x="180" y="172.66" font-size="12" letter-spacing="0.6">循环进水</text>
<text x="500" y="60.760000000000005" font-size="12" letter-spacing="1.2">冷水进水管</text>
<text x="500.3" y="102.06" font-size="12" letter-spacing="0.85">热水回水</text>
<text x="375.5" y="198.66" font-size="12" letter-spacing="0.5">热水送水</text>
<text x="265.7" y="394.36" font-size="12" letter-spacing="1.1">储热水箱</text>
<text x="410.5" y="518.66" font-size="12" letter-spacing="1.0">热水出水</text>
</svg></body></html>
